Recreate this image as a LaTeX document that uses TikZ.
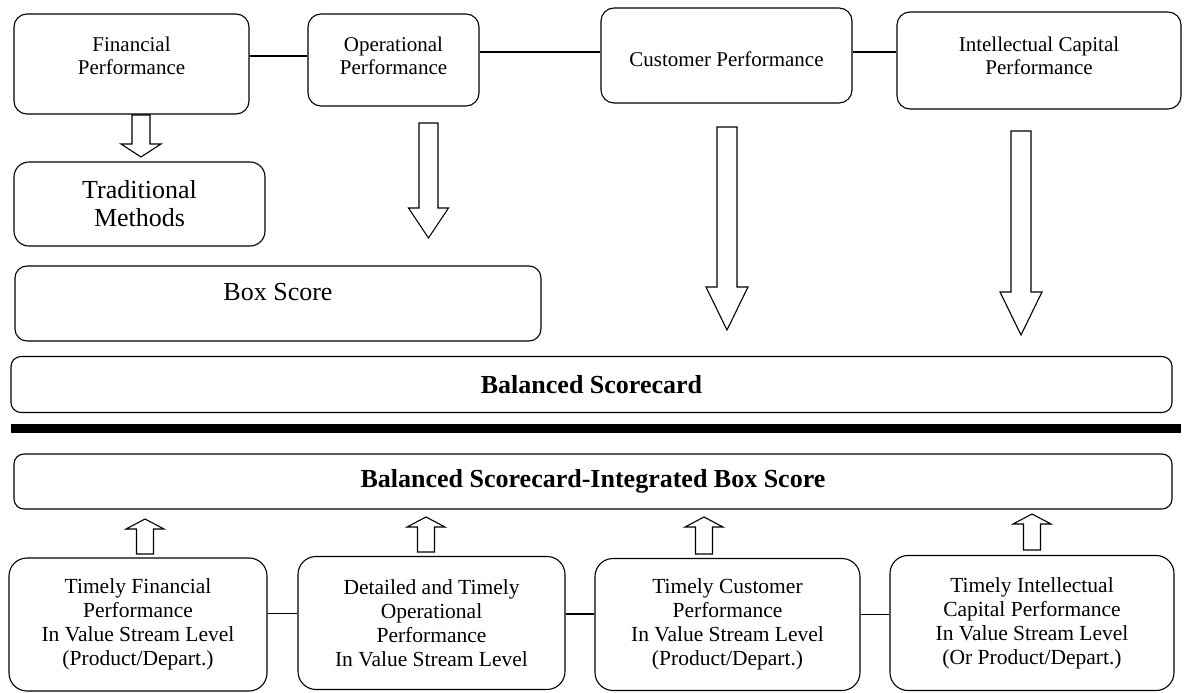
\documentclass[tikz,border=0pt]{standalone}
\usepackage{fontspec}
\setmainfont{Liberation Serif}

\newcommand{\hollowarrow}[6]{%
  \draw[blockarrow] (#1-#5,#2) -- (#1+#5,#2) -- (#1+#5,#3) -- (#1+#6,#3)
    -- (#1,#4) -- (#1-#6,#3) -- (#1-#5,#3) -- cycle;}

\begin{document}
\begin{tikzpicture}[x=1pt, y=-1pt,
    box/.style={draw, line width=1.1pt, rounded corners=13pt, align=center, inner sep=2pt},
    smalltext/.style={font=\fontsize{21}{23}\selectfont},
    lowtext/.style={font=\fontsize{21.5}{24}\selectfont},
    bigtext/.style={font=\fontsize{26}{28}\selectfont},
    boldtext/.style={font=\fontsize{26}{28}\selectfont\bfseries},
    blockarrow/.style={draw, line width=1.1pt, fill=white, line join=miter}]
    \useasboundingbox (0,0) rectangle (1184,693);

    \node[box, smalltext, minimum width=235pt, minimum height=100pt] (fin) at (131.5,64)
        {Financial\\Performance\rule[-17pt]{0pt}{0pt}};
    \node[box, smalltext, minimum width=171pt, minimum height=92pt] (op) at (393.5,60)
        {Operational\\Performance\rule[-8pt]{0pt}{0pt}};
    \node[box, smalltext, minimum width=251pt, minimum height=95pt] (cus) at (726.5,55.5)
        {\rule{0pt}{23pt}Customer Performance};
    \node[box, smalltext, minimum width=284pt, minimum height=97pt] (int) at (1039,60.5)
        {Intellectual Capital\\Performance\rule[-10pt]{0pt}{0pt}};
    \draw[line width=1.1pt] ([yshift=8pt]fin.east) -- ([yshift=8pt]fin.east -| op.west);
    \draw[line width=1.1pt] ([yshift=3.5pt]cus.west) -- ([yshift=3.5pt]cus.west -| op.east);
    \draw[line width=1.1pt] ([yshift=3.5pt]cus.east) -- ([yshift=3.5pt]cus.east -| int.west);

    \node[box, bigtext, rounded corners=15pt, minimum width=251pt, minimum height=84pt] (trad) at (139.5,204) {Traditional\\Methods};
    \node[box, bigtext, rounded corners=12pt, minimum width=526pt, minimum height=75pt,
          text height=18pt, text depth=24pt] (boxscore) at (278,303.5) {Box Score};
    \node[box, boldtext, rounded corners=10pt, minimum width=1161pt, minimum height=56pt] (bsc) at (591.5,384.5) {Balanced Scorecard};
    \draw[line width=9pt] (11,428.5) -- (1181,428.5);
    \node[box, boldtext, rounded corners=10pt, minimum width=1158pt, minimum height=55pt] (bsibs) at (593,481.5) {Balanced Scorecard-Integrated Box Score};

    \hollowarrow{141}{115}{144}{157}{9}{20}
    \hollowarrow{428.5}{123}{208}{238}{9.5}{20}
    \hollowarrow{727}{127}{287}{330}{10}{21}
    \hollowarrow{1021}{131}{292}{335}{10}{21}

    \node[box, lowtext, rounded corners=18pt, minimum width=258pt, minimum height=133pt] (b1) at (138,624.5)
        {Timely Financial\\Performance\\In Value Stream Level\\(Product/Depart.)};
    \node[box, lowtext, rounded corners=18pt, minimum width=267pt, minimum height=133pt] (b2) at (431.5,623)
        {Detailed and Timely\\Operational\\Performance\\In Value Stream Level};
    \node[box, lowtext, rounded corners=18pt, minimum width=265pt, minimum height=132pt] (b3) at (727.5,624.5)
        {Timely Customer\\Performance\\In Value Stream Level\\(Product/Depart.)};
    \node[box, lowtext, rounded corners=18pt, minimum width=284pt, minimum height=135pt] (b4) at (1032,623)
        {Timely Intellectual\\Capital Performance\\In Value Stream Level\\(Or Product/Depart.)};
    \draw[line width=1.1pt] ([yshift=11pt]b1.east) -- ([yshift=11pt]b1.east -| b2.west);
    \draw[line width=1.1pt] ([yshift=9pt]b2.east) -- ([yshift=9pt]b2.east -| b3.west);
    \draw[line width=1.1pt] ([yshift=10pt]b3.east) -- ([yshift=10pt]b3.east -| b4.west);

    \foreach \ax/\at/\ab/\ah in {145/554/529/519, 426/552/527/517, 704/554/527/517, 1032/550/524/514} {
        \hollowarrow{\ax}{\at}{\ab}{\ah}{8.5}{19}
    }
\end{tikzpicture}
\end{document}
